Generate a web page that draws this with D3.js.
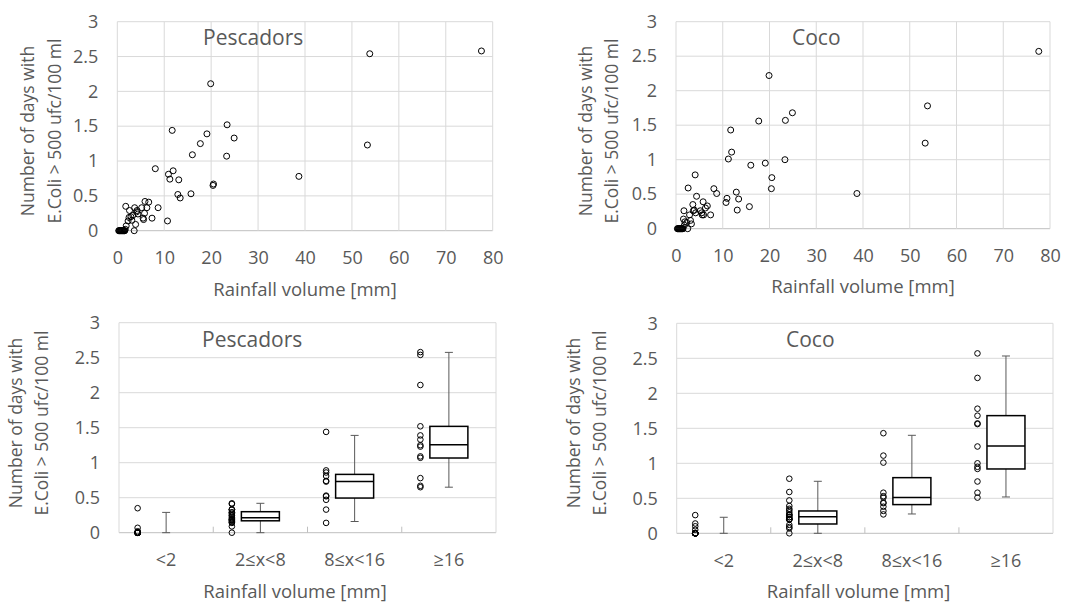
<!DOCTYPE html>
<html lang="en">
<head>
<meta charset="UTF-8">
<script src="https://d3js.org/d3.v7.min.js"></script>
<title>E.Coli vs rainfall</title>
<style>
  body { margin: 0; background: #fff; }
  text { font-family: "Open Sans", sans-serif; fill: #595959; }
</style>
</head>
<body>
<svg id="svg1" width="1070" height="602"></svg>
<script>
// rainfall of each sampled event [mm], shared by both beaches
const rainfall = [77.6, 53.8, 53.3, 38.7, 24.9, 23.4, 23.3, 20.5, 20.4, 19.9, 19.1, 17.7, 16.0,
  15.7, 13.4, 13.1, 12.9, 11.9, 11.7, 11.2, 10.9, 10.7, 8.7, 8.1,
  7.4, 6.7, 6.3, 5.9, 5.8, 5.6, 5.5, 5.2, 4.4, 4.2, 4.1, 3.9, 3.7, 3.6, 3.3, 3.1, 2.9, 2.6, 2.5, 2.3,
  1.9, 1.8, 1.7, 1.6, 1.5, 1.4, 1.3, 1.2, 1.1, 1.0, 0.9, 0.8, 0.7, 0.6, 0.5, 0.4, 0.3];

const pescadorsDays = [2.58, 2.54, 1.23, 0.78, 1.33, 1.52, 1.07, 0.67, 0.65, 2.11, 1.39, 1.25, 1.09,
  0.53, 0.47, 0.73, 0.52, 0.86, 1.44, 0.74, 0.81, 0.14, 0.33, 0.89,
  0.18, 0.41, 0.33, 0.42, 0.25, 0.16, 0.18, 0.33, 0.24, 0.29, 0.27, 0.09, 0.33, 0, 0.22, 0.15, 0.20, 0.29, 0.19, 0.14,
  0.07, 0.35, 0.02, 0, 0, 0, 0, 0, 0, 0, 0, 0, 0, 0, 0, 0, 0];

const cocoDays = [2.57, 1.78, 1.24, 0.51, 1.68, 1.57, 1.00, 0.74, 0.58, 2.22, 0.95, 1.56, 0.92,
  0.32, 0.43, 0.27, 0.53, 1.11, 1.43, 1.01, 0.44, 0.38, 0.51, 0.58,
  0.20, 0.33, 0.30, 0.20, 0.39, 0.20, 0.23, 0.26, 0.47, 0.23, 0.78, 0.27, 0.26, 0.35, 0.07, 0.12, 0.20, 0.59, 0, 0.09,
  0.10, 0.05, 0.26, 0.14, 0, 0, 0, 0, 0, 0, 0, 0, 0, 0, 0, 0, 0];

const rainClasses = ["<2", "2≤x<8", "8≤x<16", "≥16"];
const classLimits = [0, 2, 8, 16, Infinity];

// box statistics
const pescadorsLow = [0, 0, 0.16, 0.65];
const pescadorsQ1 = [0, 0.17, 0.495, 1.067];
const pescadorsMedian = [0, 0.215, 0.733, 1.257];
const pescadorsQ3 = [0, 0.30, 0.833, 1.519];
const pescadorsHigh = [0.29, 0.42, 1.39, 2.576];

const cocoLow = [0, 0, 0.276, 0.519];
const cocoQ1 = [0, 0.133, 0.41, 0.919];
const cocoMedian = [0, 0.238, 0.51, 1.248];
const cocoQ3 = [0, 0.319, 0.795, 1.681];
const cocoHigh = [0.229, 0.743, 1.40, 2.533];

const xTicks = [0, 10, 20, 30, 40, 50, 60, 70, 80];
const yTicks = [0, 0.5, 1, 1.5, 2, 2.5, 3];

const svg1 = d3.select("svg#svg1");
const gridColor = "#d9d9d9";
const fmt = d3.format("~g");
const tickFont = "18px";
const labelFont = "18.5px";

function yLabel(g, cx1, cx2, cy) {
    g.append("text").attr("transform", `translate(${cx1},${cy}) rotate(-90)`)
        .attr("text-anchor", "middle").style("font-size", "17.5px").text("Number of days with");
    g.append("text").attr("transform", `translate(${cx2},${cy}) rotate(-90)`)
        .attr("text-anchor", "middle").style("font-size", "17.5px").text("E.Coli > 500 ufc/100 ml");
}

function styleAxis(a) {
    a.select(".domain").remove();
    a.selectAll("text").style("font-size", tickFont).attr("fill", "#595959")
        .style("font-family", "'Open Sans', sans-serif");
}

function drawScatter(opt) {
    const g = svg1.append("g");
    const x = d3.scaleLinear().domain([0, 80]).range([opt.left, opt.right]);
    const y = d3.scaleLinear().domain([0, 3]).range([opt.bottom, opt.top]);

    // grid
    g.selectAll(".hg").data(yTicks).join("line")
        .attr("x1", opt.left).attr("x2", opt.right)
        .attr("y1", d => y(d)).attr("y2", d => y(d))
        .attr("stroke", d => d === 0 ? "#bfbfbf" : gridColor).attr("stroke-width", 1);
    g.selectAll(".vg").data(xTicks).join("line")
        .attr("x1", d => x(d)).attr("x2", d => x(d))
        .attr("y1", opt.top).attr("y2", opt.bottom)
        .attr("stroke", gridColor).attr("stroke-width", 1);

    const ax = g.append("g").attr("transform", `translate(0,${opt.bottom})`)
        .call(d3.axisBottom(x).tickValues(xTicks).tickSize(0).tickPadding(21));
    const ay = g.append("g").attr("transform", `translate(${opt.left},0)`)
        .call(d3.axisLeft(y).tickValues(yTicks).tickFormat(fmt).tickSize(0).tickPadding(19));
    styleAxis(ax);
    styleAxis(ay);

    g.selectAll("circle").data(rainfall).join("circle")
        .attr("cx", d => x(d)).attr("cy", (d, i) => y(opt.values[i]))
        .attr("r", 3).attr("fill", "none").attr("stroke", "#000").attr("stroke-width", 1);

    g.append("text").attr("x", opt.titleX).attr("y", 45).style("font-size", "21px").text(opt.title);
    g.append("text").attr("x", (opt.left + opt.right) / 2).attr("y", opt.xTitleY)
        .attr("text-anchor", "middle").style("font-size", labelFont).text("Rainfall volume [mm]");
    yLabel(g, opt.lab1, opt.lab2, 131);
}

function drawBoxes(opt) {
    const g = svg1.append("g");
    const x = d3.scaleBand().domain(rainClasses).range([opt.left, opt.right]);
    const y = d3.scaleLinear().domain([0, 3]).range([opt.bottom, opt.top]);
    const bw = 38;

    g.selectAll(".hg").data(yTicks).join("line")
        .attr("x1", opt.left).attr("x2", opt.right)
        .attr("y1", d => y(d)).attr("y2", d => y(d))
        .attr("stroke", d => d === 0 ? "#bfbfbf" : gridColor);
    g.selectAll(".vb").data([opt.left, opt.right]).join("line")
        .attr("x1", d => d).attr("x2", d => d).attr("y1", opt.top).attr("y2", opt.bottom)
        .attr("stroke", gridColor);
    g.selectAll(".ct").data(rainClasses.slice(1)).join("line")
        .attr("x1", d => x(d)).attr("x2", d => x(d)).attr("y1", opt.bottom - 6).attr("y2", opt.bottom)
        .attr("stroke", "#bfbfbf");

    const ax = g.append("g").attr("transform", `translate(0,${opt.bottom})`)
        .call(d3.axisBottom(x).tickSize(0).tickPadding(21));
    const ay = g.append("g").attr("transform", `translate(${opt.left},0)`)
        .call(d3.axisLeft(y).tickValues(yTicks).tickFormat(fmt).tickSize(0).tickPadding(19));
    styleAxis(ax);
    styleAxis(ay);

    rainClasses.forEach((c, k) => {
        const cx = x(c) + x.bandwidth() / 2;
        // whisker
        g.append("line").attr("x1", cx).attr("x2", cx)
            .attr("y1", y(opt.low[k])).attr("y2", y(opt.high[k])).attr("stroke", "#595959");
        [opt.low[k], opt.high[k]].forEach(v => {
            g.append("line").attr("x1", cx - 4).attr("x2", cx + 4)
                .attr("y1", y(v)).attr("y2", y(v)).attr("stroke", "#595959");
        });
        if (opt.q3[k] > opt.q1[k]) {
            g.append("rect").attr("x", cx - bw / 2).attr("width", bw)
                .attr("y", y(opt.q3[k])).attr("height", y(opt.q1[k]) - y(opt.q3[k]))
                .attr("fill", "#fff").attr("stroke", "#000").attr("stroke-width", 1.5);
            g.append("line").attr("x1", cx - bw / 2).attr("x2", cx + bw / 2)
                .attr("y1", y(opt.median[k])).attr("y2", y(opt.median[k]))
                .attr("stroke", "#000").attr("stroke-width", 1.5);
        }
        // individual values of the class
        const pts = rainfall.map((r, i) => [r, opt.values[i]])
            .filter(p => p[0] >= classLimits[k] && p[0] < classLimits[k + 1]);
        g.selectAll(".p" + k).data(pts).join("circle")
            .attr("cx", cx - 28.5).attr("cy", d => y(d[1]))
            .attr("r", 2.8).attr("fill", "none").attr("stroke", "#000").attr("stroke-width", 1);
    });

    g.append("text").attr("x", opt.titleX).attr("y", 347).style("font-size", "21px").text(opt.title);
    g.append("text").attr("x", opt.xTitleX).attr("y", 598)
        .attr("text-anchor", "middle").style("font-size", labelFont).text("Rainfall volume [mm]");
    yLabel(g, opt.lab1, opt.lab2, 423);
}

drawScatter({left: 117.3, right: 492.7, top: 21.7, bottom: 230.7, values: pescadorsDays,
    title: "Pescadors", titleX: 203, xTitleY: 296, lab1: 34, lab2: 60.5});
drawScatter({left: 676, right: 1050, top: 21.7, bottom: 228.7, values: cocoDays,
    title: "Coco", titleX: 792, xTitleY: 293, lab1: 591.5, lab2: 618});

drawBoxes({left: 119, right: 496, top: 322.7, bottom: 532.7, values: pescadorsDays,
    low: pescadorsLow, q1: pescadorsQ1, median: pescadorsMedian, q3: pescadorsQ3, high: pescadorsHigh,
    title: "Pescadors", titleX: 202, xTitleX: 295, lab1: 21.5, lab2: 48});
drawBoxes({left: 676.7, right: 1053, top: 323.3, bottom: 533.3, values: cocoDays,
    low: cocoLow, q1: cocoQ1, median: cocoMedian, q3: cocoQ3, high: cocoHigh,
    title: "Coco", titleX: 786, xTitleX: 858.5, lab1: 579.5, lab2: 606});
</script>
</body>
</html>
